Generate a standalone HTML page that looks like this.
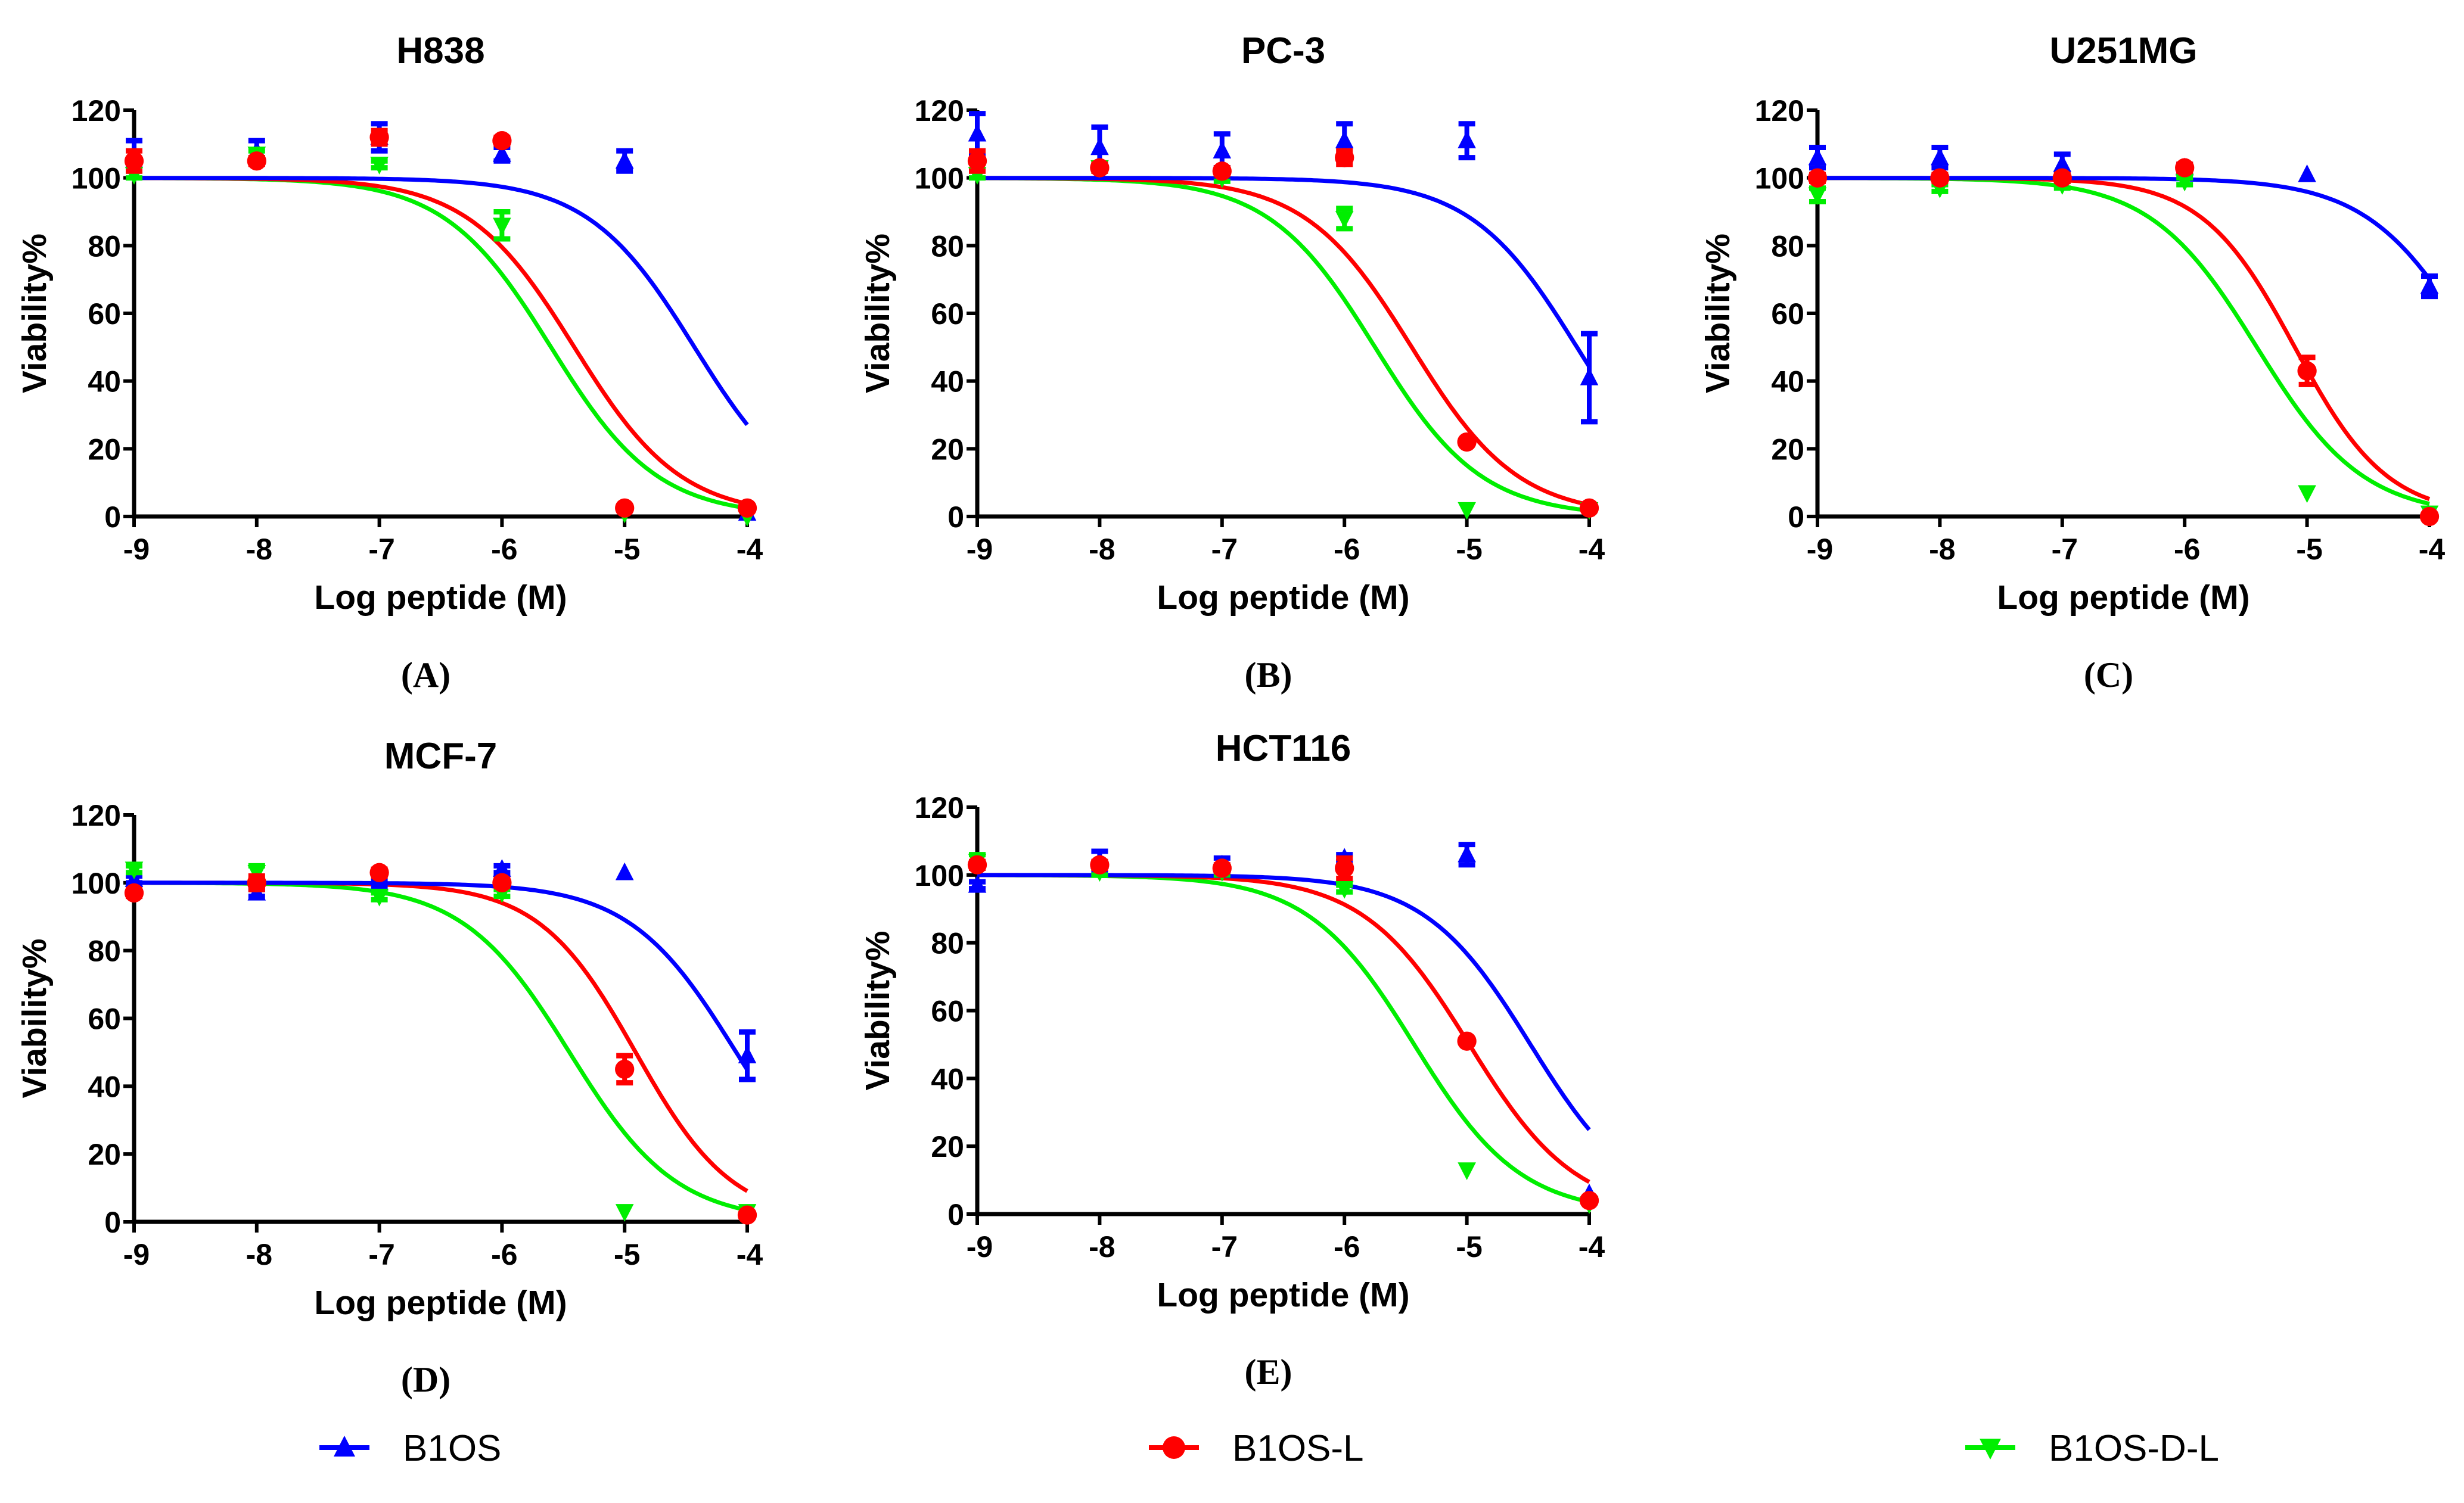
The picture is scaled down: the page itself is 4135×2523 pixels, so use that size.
<!DOCTYPE html>
<html><head><meta charset="utf-8">
<style>
html,body{margin:0;padding:0;background:#fff;}
svg{display:block;}
text{font-family:"Liberation Sans",Arial,sans-serif;}
</style></head>
<body>
<svg id="fig" width="4135" height="2523" viewBox="0 0 4135 2523" xmlns="http://www.w3.org/2000/svg"></svg>
<script>
// ---- data ----
const logDose = [-9, -8, -7, -6, -5, -4];
const yTicks = [0, 20, 40, 60, 80, 100, 120];
const xTicks = [-9, -8, -7, -6, -5, -4];
const panelTitles = ["H838", "PC-3", "U251MG", "MCF-7", "HCT116"];
const panelLetters = ["(A)", "(B)", "(C)", "(D)", "(E)"];
const seriesNames = ["B1OS", "B1OS-L", "B1OS-D-L"];
// mean viability per panel (rows = panels)
const b1osMean = [[107,108,112,107,105,1],[113,109,108,111,111,41],[106,106,104,103,101,68],[101,97,100,104,103,49],[97,104,103,105,106,6]];
const b1osErr  = [[4,3,4,2,3,0],[6,6,5,5,5,13],[3,3,3,1,0,3],[1,1,1,1,0,7],[1,3,2,1,3,0]];
const b1oslMean = [[105,105,112,111,2.5,2.5],[105,103,102,106,22,2.5],[100,100,100,103,43,0],[97,100,103,100,45,2],[103,103,102,102,51,4]];
const b1oslErr  = [[3,1,2,1,0,0],[3,1,1,2,0,0],[1,1,1,1,4,0],[1,2,1,1,4,0],[1,1,1,3,0,0]];
const b1osdlMean = [[101,107,104,86,1,0],[101,103,100,88,2,2],[95,97,98,99,7,1],[104,103,96,97,3,3],[104,101,101,96,13,3]];
const b1osdlErr  = [[1,1,1,4,0,0],[1,1,1,3,0,0],[2,1,1,1,0,0],[1,2,1,1,0,0],[2,1,1,1,0,0]];
// fitted curve parameters (log IC50, Hill slope)
const b1osIC50 = [-4.43, -4.1, -3.63, -4.09, -4.48];
const b1oslIC50 = [-5.41, -5.45, -5.1, -4.91, -4.98];
const b1osdlIC50 = [-5.6, -5.75, -5.41, -5.45, -5.43];
const b1osHill = [1, 1, 1, 1, 1];
const b1oslHill = [1, 1, 1.15, 1.1, 1];
const b1osdlHill = [1, 1, 1, 1, 1];

// ---- layout ----
const panels = [
  {x0:225,x1:1254,y0:867,y1:185,ty:84,ly:1002,py:1133},
  {x0:1640,x1:2667,y0:867,y1:185,ty:84,ly:1002,py:1133},
  {x0:3050,x1:4077,y0:867,y1:185,ty:84,ly:1002,py:1133},
  {x0:225,x1:1254,y0:2051,y1:1368,ty:1268,ly:2186,py:2316},
  {x0:1640,x1:2667,y0:2038,y1:1355,ty:1255,ly:2173,py:2303}
];
const colors = ["#0000ff", "#ff0000", "#00ee00"];
const NS = "http://www.w3.org/2000/svg";
const svg = document.getElementById("fig");
function mk(tag, attrs, parent){const e=document.createElementNS(NS,tag);for(const k in attrs)e.setAttribute(k,attrs[k]);(parent||svg).appendChild(e);return e;}
function marker(g, kind, cx, cy, col, sz){
  let m;
  if(kind===0){m=mk("polygon",{points:`${cx},${cy-sz} ${cx-sz*0.9},${cy+sz*0.75} ${cx+sz*0.9},${cy+sz*0.75}`,fill:col},g);}
  else if(kind===1){m=mk("circle",{cx:cx,cy:cy,r:sz*0.95,fill:col},g);}
  else {m=mk("polygon",{points:`${cx},${cy+sz} ${cx-sz*0.9},${cy-sz*0.75} ${cx+sz*0.9},${cy-sz*0.75}`,fill:col},g);}
  return m;
}

panels.forEach((p,i)=>{
  const g = mk("g",{});
  
  
  const sx = v => p.x0 + (v - (-9)) / 5 * (p.x1 - p.x0);
  const sy = v => p.y0 - v / 120 * (p.y0 - p.y1);
  const cx = (p.x0+p.x1)/2;
  const t = mk("text",{x:cx, y:p.ty+22, "text-anchor":"middle","font-size":62,"font-weight":"bold"},g);
  t.textContent = panelTitles[i];
  
  
  const ya = mk("line",{x1:p.x0,y1:sy(0)+3,x2:p.x0,y2:sy(120),stroke:"#000","stroke-width":7},g);
  
  
  const xa = mk("line",{x1:p.x0-3,y1:sy(0),x2:p.x1+3,y2:sy(0),stroke:"#000","stroke-width":7},g);
  
  
  yTicks.forEach(v=>{
    mk("line",{x1:p.x0-18,y1:sy(v),x2:p.x0,y2:sy(v),stroke:"#000","stroke-width":6},g);
    const tl = mk("text",{x:p.x0-22,y:sy(v)+18,"text-anchor":"end","font-size":50,"font-weight":"bold"},g);
    tl.textContent = v;
    
    
  });
  xTicks.forEach(v=>{
    mk("line",{x1:sx(v),y1:sy(0),x2:sx(v),y2:sy(0)+18,stroke:"#000","stroke-width":6},g);
    const tl = mk("text",{x:sx(v)+4,y:sy(0)+72,"text-anchor":"middle","font-size":50,"font-weight":"bold"},g);
    tl.textContent = v;
    
    
  });
  const xl = mk("text",{x:cx,y:p.ly+20,"text-anchor":"middle","font-size":57,"font-weight":"bold"},g);
  xl.textContent = "Log peptide (M)";
  
  
  const ymid = (p.y0+p.y1)/2;
  const yl = mk("text",{x:0,y:0,"text-anchor":"middle","font-size":57,"font-weight":"bold",transform:`translate(${p.x0-148},${ymid}) rotate(-90)`},g);
  yl.textContent = "Viability%";
  
  
  const pl = mk("text",{x:cx-25,y:p.py+20,"text-anchor":"middle","font-size":60,"font-weight":"bold",style:"font-family:'Liberation Serif',serif"},g);
  pl.textContent = panelLetters[i];
  
  

  const means=[b1osMean[i],b1oslMean[i],b1osdlMean[i]];
  const errs=[b1osErr[i],b1oslErr[i],b1osdlErr[i]];
  const ic=[b1osIC50[i],b1oslIC50[i],b1osdlIC50[i]];
  const hl=[b1osHill[i],b1oslHill[i],b1osdlHill[i]];
  [2,1,0].forEach(s=>{
    let d="";
    for(let k=0;k<=200;k++){
      const lx=-9+5*k/200;
      const v=100/(1+Math.pow(10,hl[s]*(lx-ic[s])));
      d+=(k?"L":"M")+sx(lx).toFixed(1)+","+sy(v).toFixed(1);
    }
    const c = mk("path",{d:d,fill:"none",stroke:colors[s],"stroke-width":7},g);
    
    
  });
  [0,2,1].forEach(s=>{
    logDose.forEach((ld,k)=>{
      const m=means[s][k], e=errs[s][k];
      const x=sx(ld);
      if(e>0){
        mk("line",{x1:x,y1:sy(m-e),x2:x,y2:sy(m+e),stroke:colors[s],"stroke-width":8},g);
        mk("line",{x1:x-14,y1:sy(m+e),x2:x+14,y2:sy(m+e),stroke:colors[s],"stroke-width":9},g);
        mk("line",{x1:x-14,y1:sy(m-e),x2:x+14,y2:sy(m-e),stroke:colors[s],"stroke-width":9},g);
      }
      const mm = marker(g,s,x,sy(m),colors[s],17);
      
      
    });
  });
});

// legend
const legX=[578,1970,3340];
seriesNames.forEach((n,s)=>{
  const g=mk("g",{});
  
  
  mk("line",{x1:legX[s]-42,y1:2430,x2:legX[s]+42,y2:2430,stroke:colors[s],"stroke-width":8},g);
  marker(g,s,legX[s],2430,colors[s],20);
  const t=mk("text",{x:legX[s]+98,y:2452,"font-size":62},g);
  t.textContent=n;
});
</script>
</body></html>
